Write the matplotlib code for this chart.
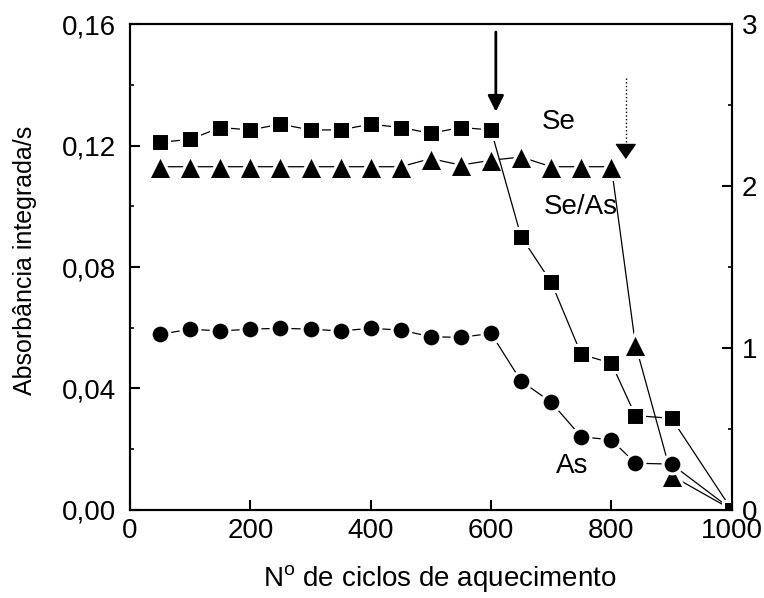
import matplotlib
matplotlib.use("Agg")
import matplotlib.pyplot as plt
from matplotlib.ticker import MultipleLocator, FuncFormatter

plt.rcParams['font.family'] = ['Liberation Sans', 'DejaVu Sans']
plt.rcParams['mathtext.default'] = 'regular'

# ── data ──────────────────────────────────────────────────────────────────
ciclos = [50, 100, 150, 200, 250, 300, 350, 400, 450, 500, 550, 600,
          650, 700, 750, 800, 840, 900, 1000]
se = [0.1211, 0.1221, 0.1260, 0.1252, 0.1271, 0.1252, 0.1252, 0.1271,
      0.1260, 0.1241, 0.1260, 0.1252,
      0.0900, 0.0750, 0.0512, 0.0483, 0.0310, 0.0301, 0.0]
as_ = [0.0578, 0.0595, 0.0589, 0.0595, 0.0598, 0.0595, 0.0589, 0.0598,
       0.0592, 0.0570, 0.0568, 0.0581,
       0.0424, 0.0354, 0.0240, 0.0230, 0.0153, 0.0150, 0.0]

ciclos_ratio = [50, 100, 150, 200, 250, 300, 350, 400, 450, 500, 550, 600,
                650, 700, 750, 800, 840, 900, 1000]
se_as = [2.12, 2.12, 2.12, 2.12, 2.12, 2.12, 2.12, 2.12, 2.12,
         2.17, 2.13, 2.16, 2.18, 2.12, 2.12, 2.12,
         1.02, 0.21, 0.0]

x_ticks = [0, 200, 400, 600, 800, 1000]
y_ticks = [0.00, 0.04, 0.08, 0.12, 0.16]
y2_ticks = [0, 1, 2, 3]

# ── figure ────────────────────────────────────────────────────────────────
fig = plt.figure(figsize=(7.64, 5.98), dpi=100)
ax = fig.add_axes([130 / 764, (598 - 509.6) / 598, 601.7 / 764, 485.2 / 598])
ax2 = ax.twinx()
ax.set_zorder(ax2.get_zorder() + 1)
ax.patch.set_visible(False)

mk = dict(color='black', linewidth=0.9, markeredgecolor='white',
          markeredgewidth=2.2)
ax2.plot(ciclos_ratio, se_as, marker='^', markersize=17, **mk)
ax.plot(ciclos, as_, marker='o', markersize=13.5, **mk)
ax.plot(ciclos, se, marker='s', markersize=13, **mk)

ax.set_xlim(0, 1000)
ax.set_ylim(0, 0.16)
ax2.set_ylim(0, 3)

ax.set_xticks(x_ticks)
ax.set_yticks(y_ticks)
ax.yaxis.set_minor_locator(MultipleLocator(0.02))
ax.yaxis.set_major_formatter(FuncFormatter(lambda v, p: f"{v:.2f}".replace('.', ',')))
ax2.set_yticks(y2_ticks)
ax2.yaxis.set_minor_locator(MultipleLocator(0.5))

ax.tick_params(axis='both', which='major', direction='in', length=7, width=1.5,
               labelsize=20)
ax.tick_params(axis='y', which='minor', direction='in', length=3, width=1.2)
ax.tick_params(axis='x', which='major', pad=6)
ax.tick_params(axis='y', which='major', pad=10)
ax2.tick_params(axis='y', which='major', direction='in', length=7, width=1.5,
                labelsize=20, pad=7)
ax2.tick_params(axis='y', which='minor', direction='in', length=3, width=1.2)

for a in (ax, ax2):
    for s in a.spines.values():
        s.set_linewidth(1.5)

ax.set_xlabel(r'N$^{o}$ de ciclos de aquecimento', fontsize=20)
ax.set_ylabel('Absorbância integrada/s', fontsize=18)
ax.xaxis.set_label_coords(0.515, -0.141)
ax.xaxis.label.set_va('center')
ax.yaxis.set_label_coords(-0.1745, 0.514)
ax.yaxis.label.set_va('center')

# series names
ax.text(712, 0.1278, 'Se', fontsize=20, ha='center', va='center')
ax.text(749, 0.0998, 'Se/As', fontsize=20, ha='center', va='center')
ax.text(734, 0.0144, 'As', fontsize=20, ha='center', va='center')

# solid arrow at 600 cycles
ax.annotate('', xy=(608, 0.1312), xytext=(608, 0.1575),
            arrowprops=dict(arrowstyle='-|>,head_length=0.4,head_width=0.2',
                            color='black', lw=2, mutation_scale=24,
                            shrinkA=0, shrinkB=0))
# dotted arrow near 820 cycles: dotted shaft + solid head
ax.plot([824, 824], [0.1423, 0.1195], color='black', lw=1, linestyle=':')
ax.annotate('', xy=(824, 0.1156), xytext=(824, 0.1198),
            arrowprops=dict(arrowstyle='-|>,head_length=0.4,head_width=0.28',
                            color='black', lw=1, mutation_scale=24,
                            shrinkA=0, shrinkB=0))

fig.savefig('out.png', dpi=100)
